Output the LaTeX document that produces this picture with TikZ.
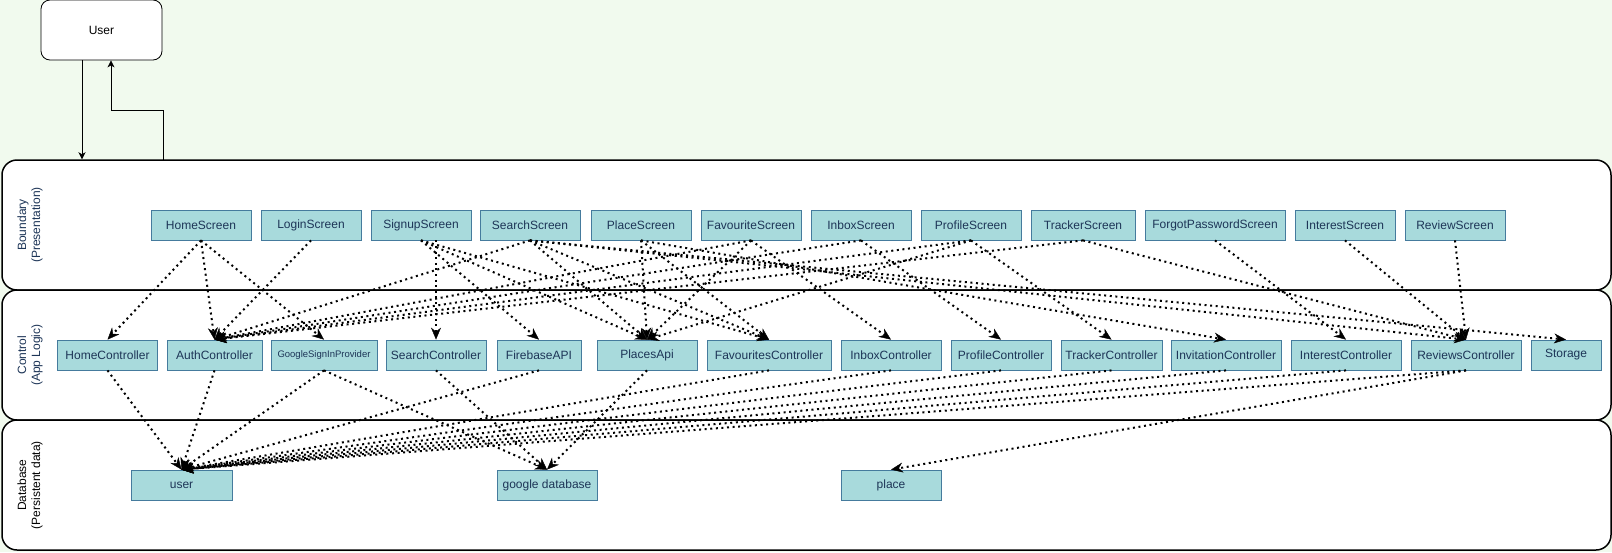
\documentclass[tikz,border=0pt]{standalone}
\usepackage{fontspec}
\setmainfont{Liberation Sans}
\usetikzlibrary{arrows.meta}
\definecolor{mint}{HTML}{F1FAEE}
\definecolor{boxfill}{HTML}{A8DADC}
\definecolor{boxline}{HTML}{457B9D}
\definecolor{navy}{HTML}{1D3557}
\tikzset{
  lane/.style={draw=black, line width=1.5pt, fill=white, rounded corners=15pt,
    minimum width=1609pt, minimum height=130pt, inner sep=0pt},
  lanelabel/.style={rotate=90, align=center, text=navy, font=\fontsize{12}{14}\selectfont},
  comp/.style={draw=boxline, fill=boxfill, text=navy, line width=0.8pt, inner sep=0pt,
    minimum height=30pt, minimum width=100pt, font=\fontsize{12}{14}\selectfont},
  link/.style={line width=2pt, dash pattern=on 2pt off 3.6pt,
    -{Stealth[length=12pt,width=10pt,inset=4pt,line width=0.4pt]}},
  userlink/.style={line width=0.8pt, -{Stealth[length=7pt,width=7pt,inset=2pt]}}
}
\begin{document}
\begin{tikzpicture}[x=1pt, y=-1pt]
        \useasboundingbox (0,0) rectangle (1612,552);
        \fill[mint] (0,0) rectangle (1612,552);
        % swimlanes
        \node[lane] (bnd) at (806.5,225){};
        \node[lane] (ctl) at (806.5,355){};
        \node[lane] (dbl) at (806.5,485){};
        \node[lanelabel] (bndlabel) at (30,225){Boundary\\(Presentation)};
        \node[lanelabel] (ctllabel) at (30,355){Control\\(App Logic)};
        \node[lanelabel, text=black] (dbllabel) at (30,485){Database\\(Persistent data)};
        % actor
        \node[draw, fill=white, line width=0.8pt, rounded corners=9pt, minimum width=121pt,
          minimum height=60pt, font=\fontsize{12}{14}\selectfont] (usr) at (101.5,30){User};
        \coordinate (dwn) at (82,0);
        \coordinate (ret) at (163,160);
        \coordinate (turn) at (111,110);
        \draw[userlink] (usr.south -| dwn) -- (dwn |- bnd.north);
        \draw[userlink] (ret) |- (turn) -- (turn |- usr.south);
        % boundary
        \node[comp] (hs) at (201,225){HomeScreen};
        \node[comp] (ls) at (311,225){LoginScreen};
        \node[comp] (ss) at (421,225){SignupScreen};
        \node[comp] (srs) at (530,225){SearchScreen};
        \node[comp] (ps) at (641,225){PlaceScreen};
        \node[comp] (fs) at (751,225){FavouriteScreen};
        \node[comp] (is) at (861,225){InboxScreen};
        \node[comp] (prs) at (971,225){ProfileScreen};
        \node[comp, minimum width=104pt] (ts) at (1083,225){TrackerScreen};
        \node[comp, minimum width=140pt] (fps) at (1215,225){ForgotPasswordScreen};
        \node[comp] (ints) at (1345,225){InterestScreen};
        \node[comp] (rs) at (1455,225){ReviewScreen};
        % control
        \node[comp] (hc) at (107.5,355){HomeController};
        \node[comp, minimum width=95pt] (ac) at (214.5,355){AuthController};
        \node[comp, minimum width=106pt, font=\fontsize{9.5}{11}\selectfont] (gsp) at (324,355){GoogleSignInProvider};
        \node[comp] (sc) at (436,355){SearchController};
        \node[comp, minimum width=84pt] (fb) at (539,355){FirebaseAPI};
        \node[comp] (pa) at (647,355){PlacesApi};
        \node[comp, minimum width=124pt] (fc) at (769,355){FavouritesController};
        \node[comp] (ic) at (891,355){InboxController};
        \node[comp] (pc) at (1001,355){ProfileController};
        \node[comp, minimum width=101pt] (tc) at (1111.5,355){TrackerController};
        \node[comp, minimum width=110pt] (ivc) at (1226,355){InvitationController};
        \node[comp, minimum width=110pt] (itc) at (1346,355){InterestController};
        \node[comp, minimum width=110pt] (rc) at (1466,355){ReviewsController};
        \node[comp, minimum width=70pt] (st) at (1566,355){Storage};
        % database
        \node[comp, minimum width=101pt] (user) at (181.5,485){user};
        \node[comp] (gdb) at (547,485){google database};
        \node[comp] (place) at (891,485){place};
        % boundary to control
        \draw[link] (hs.south) -- (hc.north);
        \draw[link] (hs.south) -- (ac.north);
        \draw[link] (hs.south) -- (gsp.north);
        \draw[link] (ls.south) -- (ac.north);
        \draw[link] (sc.north |- ss.south) -- (sc.north);
        \draw[link] (ss.south) -- (fb.north);
        \draw[link] (ss.south) -- (pa.north);
        \draw[link] (ss.south) -- (fc.north);
        \draw[link] (srs.south) -- (ac.north);
        \draw[link] (srs.south) -- (pa.north);
        \draw[link] (srs.south) -- (fc.north);
        \draw[link] (srs.south) -- (rc.north);
        \draw[link] (srs.south) -- (st.north);
        \draw[link] (ps.south) -- (pa.north);
        \draw[link] (ps.south) -- (fc.north);
        \draw[link] (ps.south) -- (ivc.north);
        \draw[link] (fs.south) -- (ac.north);
        \draw[link] (fs.south) -- (pa.north);
        \draw[link] (fs.south) -- (ic.north);
        \draw[link] (is.south) -- (ac.north);
        \draw[link] (is.south) -- (pc.north);
        \draw[link] (prs.south) -- (ac.north);
        \draw[link] (prs.south) -- (pa.north);
        \draw[link] (prs.south) -- (tc.north);
        \draw[link] (ts.south) -- (ac.north);
        \draw[link] (ts.south) -- (rc.north);
        \draw[link] (fps.south) -- (itc.north);
        \draw[link] (ints.south) -- (rc.north);
        \draw[link] (rs.south) -- (rc.north);
        % control to database
        \draw[link] (hc.south) -- (user.north);
        \draw[link] (ac.south) -- (user.north);
        \draw[link] (gsp.south) -- (user.north);
        \draw[link] (gsp.south) -- (gdb.north);
        \draw[link] (sc.south) -- (gdb.north);
        \draw[link] (fb.south) -- (user.north);
        \draw[link] (pa.south) -- (gdb.north);
        \draw[link] (fc.south) -- (user.north);
        \draw[link] (ic.south) -- (user.north);
        \draw[link] (pc.south) -- (user.north);
        \draw[link] (tc.south) -- (user.north);
        \draw[link] (ivc.south) -- (user.north);
        \draw[link] (itc.south) -- (user.north);
        \draw[link] (rc.south) -- (user.north);
        \draw[link] (rc.south) -- (place.north);
    \end{tikzpicture}
\end{document}
